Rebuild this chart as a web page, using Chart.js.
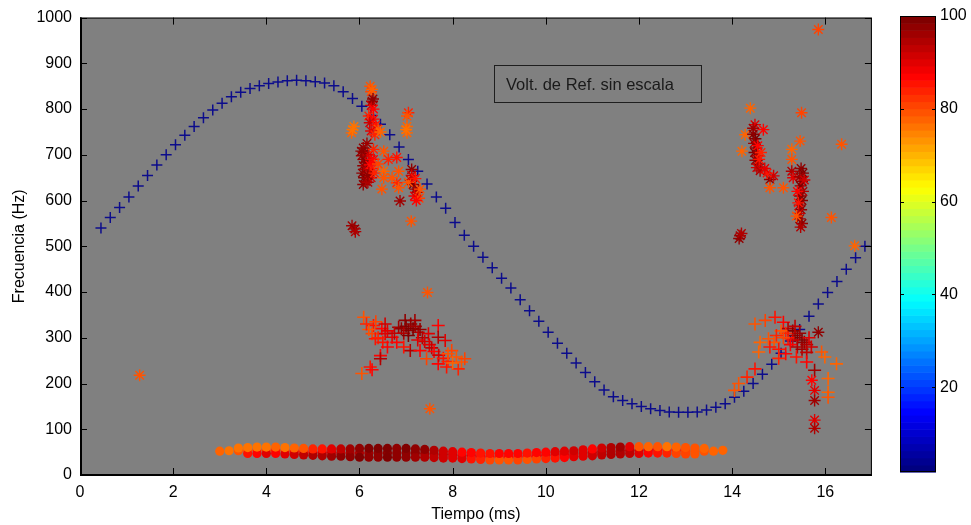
<!DOCTYPE html>
<html><head><meta charset="utf-8">
<script src="https://cdn.jsdelivr.net/npm/chart.js@4"></script>
<style>
html,body{margin:0;padding:0;background:#fff;}
#wrap{position:relative;width:971px;height:525px;overflow:hidden;}
#main{position:absolute;left:0;top:0;}
#cbar{position:absolute;left:880px;top:0;}
#legend{position:absolute;left:494px;top:65px;width:208px;height:38px;border:1px solid #1e1e1e;box-sizing:border-box;
  font-family:"Liberation Sans",Arial,sans-serif;font-size:16.5px;color:#1a1a1a;padding-left:11px;line-height:36px;white-space:nowrap;}
</style></head>
<body>
<div id="wrap">
<canvas id="main" width="880" height="525"></canvas>
<canvas id="cbar" width="91" height="525"></canvas>
<div id="legend">Volt. de Ref. sin escala</div>
</div>
<script>
// ---------- data ----------
const xTicks = [0,2,4,6,8,10,12,14,16];
const yTicks = [0,100,200,300,400,500,600,700,800,900,1000];
const cbTicks = [20,40,60,80,100];
const cMin = 1.7, cMax = 100;

const blueX = [0.45,0.65,0.85,1.05,1.25,1.45,1.65,1.85,2.05,2.25,2.45,2.65,2.85,3.05,3.25,3.45,3.65,3.85,4.05,4.25,
  4.45,4.65,4.85,5.05,5.25,5.45,5.65,5.85,6.05,6.25,6.45,6.65,6.85,7.05,7.25,7.45,7.65,7.85,8.05,8.25,
  8.45,8.65,8.85,9.05,9.25,9.45,9.65,9.85,10.05,10.25,10.45,10.65,10.85,11.05,11.25,11.45,11.65,11.85,12.05,12.25,
  12.45,12.65,12.85,13.05,13.25,13.45,13.65,13.85,14.05,14.25,14.45,14.65,14.85,15.05,15.25,15.45,15.65,15.85,16.05,16.25,
  16.45,16.65,16.85];
const blueY = [540,563,585,608,632,655,678,700,722,743,762,781,798,813,827,837,845,851,856,859,
  862,863,862,860,857,851,838,823,806,786,767,744,717,690,664,636,608,583,552,524,
  500,476,453,430,409,383,359,336,312,288,266,245,224,204,186,171,163,156,150,145,
  141,138,137,137,138,142,148,156,170,183,200,220,242,266,293,318,347,374,399,423,
  450,475,500];

// asterisk markers [time, freq, level]
const starPoints = [
 [1.28,218,80],
 [6.23,850,80],[6.25,838,82],[6.27,843,78],
 [6.27,817,97],[6.25,808,92],[6.30,800,88],[6.29,822,99],
 [6.20,785,84],[6.30,778,88],[6.22,770,92],[6.35,765,86],[6.40,756,80],[6.25,752,90],[6.33,744,85],[6.45,750,78],
 [5.88,762,77],[5.83,748,78],[5.85,755,76],
 [7.05,792,84],[7.02,785,80],
 [7.02,762,78],[7.02,748,78],[7.00,755,77],
 [6.08,715,98],[6.12,705,100],[6.05,698,97],[6.10,690,99],[6.15,684,100],[6.08,676,98],[6.12,668,96],[6.06,660,99],
 [6.10,650,100],[6.14,642,97],[6.08,635,98],[6.20,700,92],[6.25,690,90],[6.22,678,88],[6.28,670,86],[6.20,660,94],
 [6.25,650,90],[6.30,712,84],[6.18,640,96],[6.16,725,97],[6.04,708,99],[6.18,655,98],[6.30,690,88],[6.32,660,84],
 [6.52,708,80],[6.80,694,86],[6.84,664,80],[6.52,664,78],[6.52,650,80],[6.48,625,79],[6.80,639,84],[6.84,628,80],
 [6.40,680,82],[6.62,690,84],[6.70,650,80],
 [7.12,668,98],[7.10,645,96],[7.15,635,100],[7.20,625,97],[7.25,618,95],[7.18,610,90],[7.28,605,82],[7.05,640,80],
 [7.22,600,88],[7.12,655,92],[7.30,625,80],[7.20,648,86],
 [6.87,599,97],[7.11,555,80],
 [5.84,545,97],[5.90,538,99],[5.91,532,95],
 [7.46,399,80],[7.51,145,80],
 [15.85,974,82],[16.35,723,80],[16.13,563,80],[16.63,501,78],
 [14.17,523,97],[14.15,517,99],[14.20,528,95],
 [14.39,802,78],[15.49,792,82],[14.49,766,90],[14.45,758,97],[14.67,755,88],[14.28,744,78],[14.21,708,78],
 [15.46,730,80],[15.28,712,78],[15.28,690,80],
 [14.45,745,98],[14.50,735,100],[14.47,725,97],[14.52,715,99],[14.48,705,100],[14.55,698,96],[14.50,688,98],
 [14.56,680,100],[14.53,672,92],[14.60,665,95],[14.58,690,86],[14.62,705,84],[14.55,720,88],
 [14.81,646,98],[14.89,654,92],[14.81,628,80],[14.75,660,86],[14.70,670,90],[15.10,628,80],
 [15.28,664,96],[15.31,650,90],
 [15.48,670,98],[15.52,660,100],[15.45,652,97],[15.50,642,99],[15.47,632,100],[15.52,620,96],[15.46,610,98],
 [15.50,600,100],[15.45,590,97],[15.48,580,99],[15.43,572,92],[15.45,560,97],[15.50,550,98],[15.47,542,96],
 [15.55,645,92],[15.40,620,88],[15.38,566,80],[15.42,595,86],
 [15.85,312,98],[15.77,185,90],[15.77,163,97],[15.77,120,90],[15.77,102,95],[15.71,207,88]
];

// plus markers [time, freq, level]
const plusPoints = [
 [6.09,345,80],[6.30,327,86],[6.27,309,82],[6.34,298,86],[6.48,320,88],[6.55,309,90],[6.45,261,88],[6.45,254,95],
 [6.23,236,86],[6.27,230,88],[6.05,222,80],[6.70,301,90],[6.80,290,88],[6.84,323,97],[6.98,338,98],[7.19,338,97],
 [7.05,316,98],[7.26,312,96],[7.09,272,95],[7.30,272,88],[7.48,309,90],[7.69,327,88],[7.69,301,96],[7.84,294,90],
 [7.44,254,82],[7.69,243,88],[7.87,236,86],[7.98,272,82],[8.08,258,80],[8.19,247,80],[8.26,254,82],[8.12,232,84],
 [6.90,320,99],[7.00,325,100],[7.10,330,98],[7.15,320,100],[7.20,325,97],[6.95,310,96],[7.05,305,100],[7.30,318,98],
 [7.35,300,95],[7.40,292,92],[7.50,285,90],[7.55,278,94],[7.60,270,88],[7.70,262,92],[7.80,255,86],[7.90,248,84],
 [6.60,315,90],[6.40,300,84],[6.50,290,86],[6.35,335,82],[6.20,318,80],[6.55,330,92],[6.75,310,94],[7.25,295,90],
 [7.90,265,80],[8.00,245,78],[6.15,330,84],[6.60,280,88],[6.95,280,86],
 [14.49,330,80],[14.71,338,82],[14.92,345,86],[15.10,334,88],
 [15.20,320,96],[15.30,315,100],[15.35,305,98],[15.40,300,100],[15.45,310,97],[15.50,295,100],[15.55,290,98],
 [15.60,285,96],[15.30,295,92],[15.25,285,88],[15.20,300,86],[15.15,310,84],[15.40,280,95],[15.50,275,97],
 [15.65,300,90],[15.70,280,92],[15.35,325,94],[15.10,300,82],[15.05,315,80],[14.95,305,84],[14.90,290,80],
 [15.00,275,86],[15.15,265,88],[15.60,268,94],
 [14.60,290,78],[14.57,269,78],[14.78,298,80],[14.81,280,86],[15.92,269,80],[15.99,258,78],[16.24,243,78],
 [15.38,258,86],[15.60,247,88],[15.77,229,97],[14.49,232,86],[14.32,214,84],[14.14,200,80],[16.06,211,78],
 [16.06,181,78],[16.06,170,80],[14.05,185,80],[15.00,255,84]
];

// low-frequency band of dots
const bandX = [3.0,3.2,3.4,3.6,3.8, 4.0,4.2,4.4,4.6,4.8, 5.0,5.2,5.4,5.6,5.8, 6.0,6.2,6.4,6.6,6.8,
  7.0,7.2,7.4,7.6,7.8, 8.0,8.2,8.4,8.6,8.8, 9.0,9.2,9.4,9.6,9.8, 10.0,10.2,10.4,10.6,10.8,
  11.0,11.2,11.4,11.6,11.8, 12.0,12.2,12.4,12.6,12.8, 13.0,13.2,13.4,13.6,13.8];
const bandMidY = [52,53,53,54,54, 54,54,53,52,51, 50,49,49,48,48, 48,48,48,48,48,
  48,48,47,46,45, 44,43,42,41,40, 40,40,40,41,42, 43,44,45,46,48,
  49,51,52,53,54, 54,55,55,55,54, 53,52,52,52,54];
const bandMidV = [78,77,80,78,82, 80,84,82,86,84, 88,90,92,94,95, 96,97,98,99,98,
  99,98,97,96,94, 92,90,90,88,88, 86,87,86,88,88, 90,89,90,91,92,
  92,93,94,95,93, 92,90,88,86,84, 82,80,80,78,78];
const bandTopY = [null,null,59,60,61, 61,61,60,59,58, 57,57,57,57,57, 58,58,58,58,58,
  58,57,56,54,52, 51,50,49,48,47, 47,47,47,48,49, 50,51,52,53,55,
  57,59,60,61,62, 62,62,62,62,61, 60,59,58,null,null];
const bandTopV = [null,null,76,76,77, 76,78,77,78,80, 84,86,90,94,97, 99,100,100,100,99,
  100,99,98,96,92, 90,88,88,86,86, 88,87,88,86,88, 88,90,91,92,90,
  88,92,95,97,90, 80,78,79,77,78, 80,79,78,null,null];
const bandLowY = [null,null,null,47,47, 47,47,46,45,44, 43,42,41,41,40, 39,39,39,39,39,
  39,39,39,38,37, 37,36,35,34,33, 33,33,33,34,35, 36,37,38,40,41,
  42,44,45,46,47, 47,48,48,48,47, 46,46,null,null,null];
const bandLowV = [null,null,null,86,88, 90,88,90,92,94, 95,96,97,98,99, 100,99,98,100,99,
  98,97,96,94,92, 90,90,86,84,82, 80,80,82,80,82, 84,86,88,90,90,
  92,94,95,96,94, 90,88,86,84,82, 82,80,null,null,null];

// ---------- helpers ----------
function jet(v){
  let t = (v - cMin) / (cMax - cMin);
  t = Math.max(0, Math.min(1, t));
  const k = Math.round(t * 63) / 63;
  const f = z => Math.round(255 * Math.max(0, Math.min(1, z)));
  return `rgb(${f(1.5-Math.abs(4*k-3))},${f(1.5-Math.abs(4*k-2))},${f(1.5-Math.abs(4*k-1))})`;
}
const tripleData = arr => arr.map(p => ({x:p[0], y:p[1], v:p[2]}));
const rowData = (xs, ys, vs) => xs.map((x,i)=>({x:x, y:ys[i], v:vs[i]})).filter(p => p.y !== null);
const colorOf = ctx => (ctx.raw && ctx.raw.v != null) ? jet(ctx.raw.v) : '#000';
const plainLabel = v => String(v);

const FONT = "'Liberation Sans', Arial, sans-serif";
Chart.defaults.font.family = FONT;
Chart.defaults.color = '#000';

const framePlugin = {
  id: 'frame',
  beforeDatasetsDraw(chart){
    const {ctx, chartArea:a} = chart;
    ctx.save();
    ctx.fillStyle = '#808080';
    ctx.fillRect(a.left, a.top, a.right - a.left, a.bottom - a.top);
    ctx.restore();
  },
  afterDatasetsDraw(chart){
    const {ctx, chartArea:a, scales} = chart;
    ctx.save();
    ctx.strokeStyle = '#000';
    ctx.lineWidth = 1;
    ctx.beginPath();
    const L = 7;
    xTicks.forEach(t => {
      const px = Math.round(scales.x.getPixelForValue(t)) + 0.5;
      ctx.moveTo(px, a.bottom); ctx.lineTo(px, a.bottom - L);
      ctx.moveTo(px, a.top); ctx.lineTo(px, a.top + L);
    });
    yTicks.forEach(t => {
      const py = Math.round(scales.y.getPixelForValue(t)) + 0.5;
      ctx.moveTo(a.left, py); ctx.lineTo(a.left + L, py);
      ctx.moveTo(a.right, py); ctx.lineTo(a.right - L, py);
    });
    ctx.stroke();
    ctx.strokeRect(a.left + 0.5, a.top + 0.5, a.right - a.left - 1, a.bottom - a.top - 1);
    ctx.lineWidth = 2;
    ctx.beginPath();
    ctx.moveTo(a.left, a.bottom); ctx.lineTo(a.right, a.bottom);
    ctx.moveTo(a.left + 1, a.top); ctx.lineTo(a.left + 1, a.bottom);
    ctx.stroke();
    ctx.restore();
  }
};

new Chart(document.getElementById('main'), {
  type: 'scatter',
  data: {
    datasets: [
      { label:'stars', data: tripleData(starPoints), pointStyle:'star', pointRadius:6,
        borderColor: colorOf, backgroundColor: colorOf, pointBorderWidth:1.4 },
      { label:'plus', data: tripleData(plusPoints), pointStyle:'cross', pointRadius:6.5,
        borderColor: colorOf, backgroundColor: colorOf, pointBorderWidth:1.6 },
      { label:'Volt. de Ref. sin escala', data: blueX.map((x,i)=>({x:x, y:blueY[i]})), pointStyle:'cross', pointRadius:5.5,
        borderColor:'rgb(12,12,140)', backgroundColor:'rgb(12,12,140)', pointBorderWidth:1.5 },
      { label:'bandTop', data: rowData(bandX, bandTopY, bandTopV), pointStyle:'circle', pointRadius:4.6,
        backgroundColor: colorOf, borderColor: colorOf, pointBorderWidth:0 },
      { label:'bandLow', data: rowData(bandX, bandLowY, bandLowV), pointStyle:'circle', pointRadius:4.6,
        backgroundColor: colorOf, borderColor: colorOf, pointBorderWidth:0 },
      { label:'bandMid', data: rowData(bandX, bandMidY, bandMidV), pointStyle:'circle', pointRadius:4.6,
        backgroundColor: colorOf, borderColor: colorOf, pointBorderWidth:0 }
    ]
  },
  options: {
    responsive:false, animation:false, events:[],
    layout:{ padding:{ left:0, top:16, right:4, bottom:0 } },
    plugins:{ legend:{display:false}, tooltip:{enabled:false}, title:{display:false} },
    scales:{
      x:{ type:'linear', min:0, max:17,
        afterBuildTicks: s => { s.ticks = xTicks.map(v=>({value:v})); },
        afterFit: s => { s.height = 50; },
        grid:{ display:false, drawTicks:false }, border:{ display:false },
        ticks:{ font:{size:16}, color:'#000', padding:8, maxRotation:0, callback: plainLabel },
        title:{ display:true, text:'Tiempo (ms)', font:{size:16}, color:'#000', padding:{top:0,bottom:1} }
      },
      y:{ type:'linear', min:0, max:1000,
        afterBuildTicks: s => { s.ticks = yTicks.map(v=>({value:v})); },
        afterFit: s => { s.width = 80; },
        grid:{ display:false, drawTicks:false }, border:{ display:false },
        ticks:{ font:{size:16}, color:'#000', padding:8, callback: plainLabel },
        title:{ display:true, text:'Frecuencia (Hz)', font:{size:16}, color:'#000', padding:{top:10,bottom:0} }
      }
    }
  },
  plugins:[framePlugin]
});

// ---------- colorbar ----------
const cbarPlugin = {
  id:'cbarFill',
  beforeDatasetsDraw(chart){
    const {ctx, chartArea:a, scales} = chart;
    const y = scales.y;
    ctx.save();
    const n = 64;
    for (let i = 0; i < n; i++){
      const v0 = cMin + (cMax - cMin) * i / n;
      const v1 = cMin + (cMax - cMin) * (i + 1) / n;
      const p0 = y.getPixelForValue(v0), p1 = y.getPixelForValue(v1);
      ctx.fillStyle = jet(cMin + (cMax - cMin) * (i + 0.5) / n);
      ctx.fillRect(a.left, p1, a.right - a.left, p0 - p1 + 0.6);
    }
    ctx.strokeStyle = '#000'; ctx.lineWidth = 1;
    ctx.strokeRect(a.left + 0.5, a.top + 0.5, a.right - a.left - 1, a.bottom - a.top - 1);
    ctx.beginPath();
    cbTicks.forEach(t => {
      const py = Math.round(y.getPixelForValue(t)) + 0.5;
      ctx.moveTo(a.left, py); ctx.lineTo(a.left + 4, py);
      ctx.moveTo(a.right, py); ctx.lineTo(a.right - 4, py);
    });
    ctx.stroke();
    ctx.restore();
  }
};

new Chart(document.getElementById('cbar'), {
  type:'scatter',
  data:{ datasets:[] },
  options:{
    responsive:false, animation:false, events:[],
    layout:{ padding:{ left:20, top:16, right:0, bottom:53 } },
    plugins:{ legend:{display:false}, tooltip:{enabled:false} },
    scales:{
      x:{ display:false, min:0, max:1 },
      y:{ position:'right', min:cMin, max:cMax,
        afterBuildTicks: s => { s.ticks = cbTicks.map(v=>({value:v})); },
        afterFit: s => { s.width = 35; },
        grid:{ display:false, drawTicks:false }, border:{ display:false },
        ticks:{ font:{size:16}, color:'#000', padding:4, callback: plainLabel }
      }
    }
  },
  plugins:[cbarPlugin]
});
</script>
</body></html>
